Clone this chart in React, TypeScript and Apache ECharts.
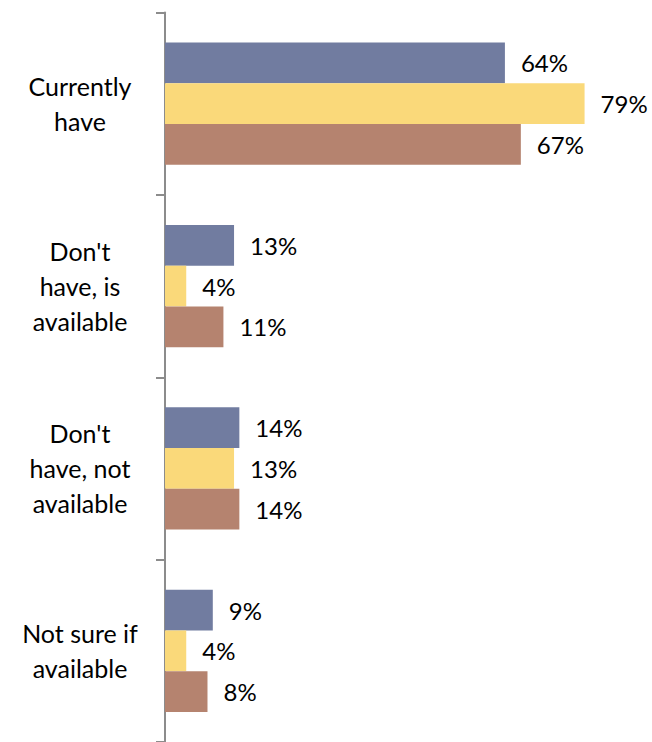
import React, { useEffect, useRef } from "react";
import * as echarts from "echarts";

const categories = [
  "Currently\nhave",
  "Don't\nhave, is\navailable",
  "Don't\nhave, not\navailable",
  "Not sure if\navailable",
];
const seriesA = [64, 13, 14, 9];
const seriesB = [79, 4, 13, 4];
const seriesC = [67, 11, 14, 8];
const seriesNames = ["Series A", "Series B", "Series C"];
const colors = ["#717CA0", "#FAD97A", "#B5836F"];

export default function App() {
  const ref = useRef<HTMLDivElement>(null);
  useEffect(() => {
    if (!ref.current) return;
    const chart = echarts.init(ref.current, null, { renderer: "svg" });
    const font = "Lato, 'Open Sans', sans-serif";
    const mk = (name: string, data: number[], color: string) => ({
      name,
      type: "bar",
      data,
      barGap: "0%",
      barCategoryGap: "33%",
      itemStyle: { color },
      label: {
        show: true,
        position: "right",
        distance: 16,
        formatter: "{c}%",
        color: "#000",
        fontSize: 24,
        fontFamily: font,
      },
    });
    chart.setOption({
      animation: false,
      grid: { left: 165, right: 9, top: 12.5, bottom: 0, containLabel: false },
      xAxis: {
        type: "value",
        min: 0,
        max: 90,
        show: false,
      },
      yAxis: {
        type: "category",
        data: categories,
        inverse: true,
        axisLine: { show: true, lineStyle: { color: "#8C8C8C", width: 2 } },
        axisTick: { show: true, length: 9, lineStyle: { color: "#8C8C8C", width: 2 } },
        axisLabel: {
          color: "#000",
          fontSize: 25,
          fontFamily: font,
          align: "center",
          margin: 85,
          lineHeight: 35,
        },
      },
      series: [
        mk(seriesNames[0], seriesA, colors[0]),
        mk(seriesNames[1], seriesB, colors[1]),
        mk(seriesNames[2], seriesC, colors[2]),
      ],
    });
    return () => chart.dispose();
  }, []);
  return (
    <div
      ref={ref}
      style={{ position: "absolute", left: 0, top: 0, width: 652, height: 742, background: "#fff" }}
    />
  );
}
